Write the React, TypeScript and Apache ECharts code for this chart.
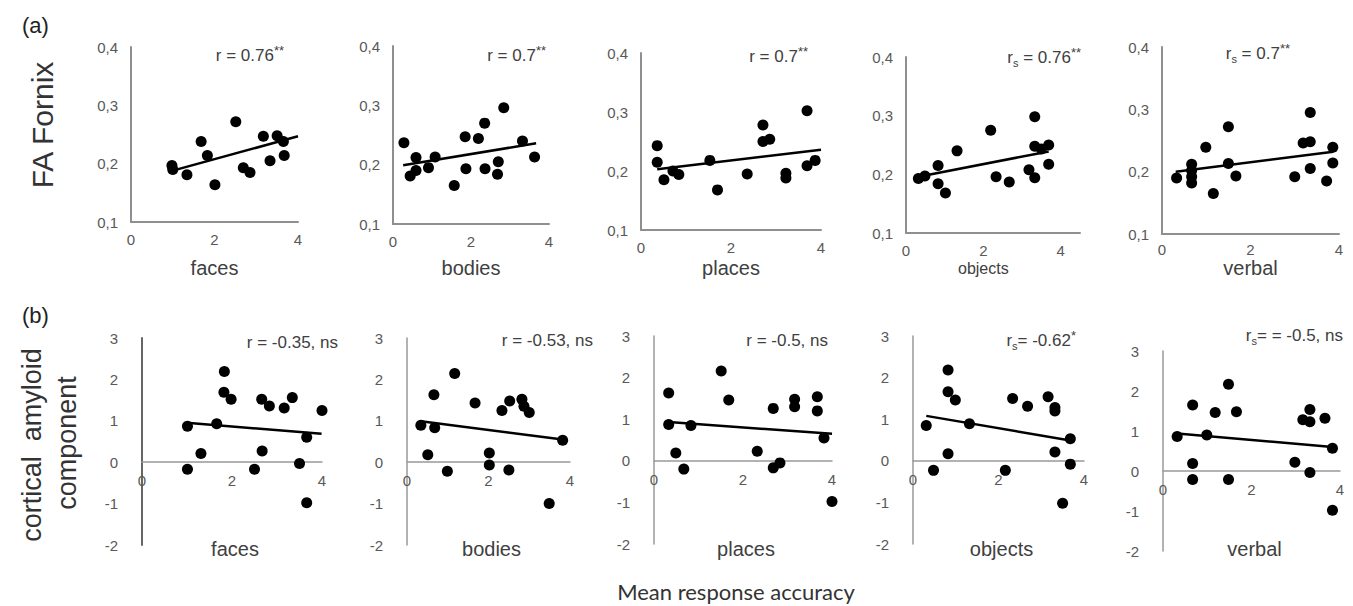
import React, { useEffect, useRef } from "react";
import * as echarts from "echarts";

// ---------- data ----------
const categories = ["faces", "bodies", "places", "objects", "verbal"];
const xTickLabels = ["0", "2", "4"];

// (a) FA Fornix vs mean response accuracy
const faFaces: number[][] = [[1.0, 0.19], [0.98, 0.197], [1.34, 0.181], [1.68, 0.238], [1.83, 0.214], [2.01, 0.164], [2.51, 0.272], [2.69, 0.193], [2.85, 0.185], [3.17, 0.247], [3.33, 0.205], [3.5, 0.248], [3.65, 0.238], [3.67, 0.214], [4.02, 0.297]];
const faBodies: number[][] = [[0.28, 0.237], [0.44, 0.181], [0.59, 0.19], [0.59, 0.212], [0.91, 0.195], [1.08, 0.213], [1.57, 0.165], [1.85, 0.247], [1.87, 0.193], [2.19, 0.244], [2.35, 0.27], [2.36, 0.193], [2.68, 0.184], [2.7, 0.205], [2.84, 0.296], [3.32, 0.24], [3.63, 0.213]];
const faPlaces: number[][] = [[0.36, 0.243], [0.36, 0.215], [0.51, 0.185], [0.71, 0.2], [0.84, 0.194], [1.53, 0.218], [1.7, 0.168], [2.36, 0.195], [2.71, 0.278], [2.71, 0.25], [2.86, 0.254], [3.22, 0.196], [3.22, 0.188], [3.69, 0.302], [3.69, 0.209], [3.87, 0.218], [4.02, 0.243]];
const faObjects: number[][] = [[0.32, 0.193], [0.49, 0.197], [0.83, 0.215], [0.83, 0.184], [1.02, 0.168], [1.32, 0.24], [2.19, 0.275], [2.33, 0.196], [2.67, 0.187], [3.18, 0.208], [3.33, 0.298], [3.33, 0.248], [3.33, 0.194], [3.5, 0.243], [3.69, 0.25], [3.69, 0.217]];
const faVerbal: number[][] = [[0.33, 0.19], [0.67, 0.212], [0.67, 0.202], [0.67, 0.192], [0.67, 0.182], [0.99, 0.239], [1.16, 0.165], [1.5, 0.272], [1.5, 0.213], [1.67, 0.193], [3.0, 0.192], [3.19, 0.246], [3.35, 0.295], [3.35, 0.248], [3.35, 0.205], [3.72, 0.185], [3.86, 0.239], [3.86, 0.214]];

const faFacesTrend: number[][] = [[1.0, 0.188], [4.0, 0.247]];
const faBodiesTrend: number[][] = [[0.26, 0.199], [3.67, 0.236]];
const faPlacesTrend: number[][] = [[0.36, 0.203], [4.0, 0.236]];
const faObjectsTrend: number[][] = [[0.32, 0.196], [3.69, 0.239]];
const faVerbalTrend: number[][] = [[0.31, 0.2], [3.87, 0.232]];

// (b) cortical amyloid component vs mean response accuracy
const amFaces: number[][] = [[1.01, 0.87], [1.01, -0.17], [1.31, 0.21], [1.66, 0.93], [1.83, 2.19], [1.82, 1.69], [1.98, 1.52], [2.5, -0.17], [2.66, 1.52], [2.67, 0.27], [2.83, 1.36], [3.16, 1.31], [3.34, 1.56], [3.5, -0.03], [3.66, 0.6], [3.66, -0.98], [4.0, 1.25]];
const amBodies: number[][] = [[0.34, 0.89], [0.51, 0.18], [0.66, 1.63], [0.68, 0.83], [0.99, -0.22], [1.17, 2.14], [1.67, 1.43], [2.02, 0.22], [2.02, -0.07], [2.33, 1.25], [2.5, -0.19], [2.52, 1.48], [2.82, 1.52], [2.87, 1.35], [3.0, 1.2], [3.49, -1.0], [3.82, 0.53]];
const amPlaces: number[][] = [[0.33, 1.63], [0.33, 0.87], [0.49, 0.19], [0.67, -0.2], [0.83, 0.85], [1.51, 2.16], [1.68, 1.46], [2.32, 0.23], [2.68, 1.26], [2.68, -0.17], [2.83, -0.05], [3.16, 1.48], [3.16, 1.3], [3.67, 1.54], [3.67, 1.2], [3.82, 0.55], [4.0, -0.98]];
const amObjects: number[][] = [[0.31, 0.85], [0.48, -0.23], [0.82, 2.18], [0.82, 1.66], [0.82, 0.17], [0.99, 1.46], [1.32, 0.89], [2.16, -0.23], [2.33, 1.5], [2.68, 1.31], [3.16, 1.54], [3.32, 1.28], [3.32, 1.2], [3.32, 0.21], [3.5, -1.02], [3.68, 0.53], [3.68, -0.08]];
const amVerbal: number[][] = [[0.32, 0.86], [0.67, 1.65], [0.67, 0.19], [0.67, -0.21], [0.99, 0.9], [1.18, 1.46], [1.48, 2.17], [1.48, -0.21], [1.66, 1.48], [2.98, 0.22], [3.16, 1.28], [3.32, 1.54], [3.32, 1.23], [3.32, -0.04], [3.66, 1.32], [3.83, 0.57], [3.83, -0.98]];

const amFacesTrend: number[][] = [[0.99, 0.95], [3.99, 0.69]];
const amBodiesTrend: number[][] = [[0.34, 0.99], [3.82, 0.55]];
const amPlacesTrend: number[][] = [[0.33, 0.93], [4.0, 0.65]];
const amObjectsTrend: number[][] = [[0.31, 1.08], [3.68, 0.49]];
const amVerbalTrend: number[][] = [[0.32, 0.94], [3.83, 0.6]];

// correlation annotations: [subscript, value text, stars]
const topStats = [
  ["", " = 0.76", "**"],
  ["", " = 0.7", "**"],
  ["", " = 0.7", "**"],
  ["s", " = 0.76", "**"],
  ["s", " = 0.7", "**"],
];
const bottomStats = [
  ["", " = -0.35, ns", ""],
  ["", " = -0.53, ns", ""],
  ["", " = -0.5, ns", ""],
  ["s", "= -0.62", "*"],
  ["s", "= = -0.5, ns", ""],
];

const topSeries = [faFaces, faBodies, faPlaces, faObjects, faVerbal];
const topTrends = [faFacesTrend, faBodiesTrend, faPlacesTrend, faObjectsTrend, faVerbalTrend];
const bottomSeries = [amFaces, amBodies, amPlaces, amObjects, amVerbal];
const bottomTrends = [amFacesTrend, amBodiesTrend, amPlacesTrend, amObjectsTrend, amVerbalTrend];

// ---------- layout ----------
const topGrids = [
  { left: 131, width: 167, top: 47, height: 175 },
  { left: 393, width: 156, top: 46, height: 178 },
  { left: 641, width: 180, top: 53, height: 177 },
  { left: 906, width: 174, top: 57, height: 176 },
  { left: 1162, width: 177, top: 47, height: 187 },
];
const topXMax = [4, 4, 4, 4.5, 4];
const bottomGrids = [
  { left: 142, width: 180, top: 338, height: 207 },
  { left: 407, width: 163, top: 338, height: 207 },
  { left: 654, width: 178, top: 336, height: 208 },
  { left: 913, width: 171, top: 336, height: 208 },
  { left: 1163, width: 177, top: 351, height: 200 },
];
// right edge x, middle y of each annotation
const topStatPos = [[284, 55], [546, 55], [808, 56], [1081, 57], [1290, 53]];
const bottomStatPos = [[338, 342], [593, 340], [828, 340], [1076, 340], [1343, 335]];

const FONT = "'Liberation Sans', Arial, sans-serif";

export default function App() {
  const ref = useRef<HTMLDivElement>(null);

  useEffect(() => {
    if (!ref.current) return;
    const chart = echarts.init(ref.current, undefined, { renderer: "svg" });

    const grids: any[] = [];
    const xAxes: any[] = [];
    const yAxes: any[] = [];
    const series: any[] = [];
    const graphics: any[] = [];

    const xLabelFmt = (v: number) => {
      const s = String(Math.round(v * 1000) / 1000);
      return xTickLabels.indexOf(s) >= 0 ? s : "";
    };

    topGrids.forEach((g, i) => {
      grids.push({ ...g });
      xAxes.push({
        type: "value", gridIndex: i, min: 0, max: topXMax[i], interval: 2,
        axisLine: { show: true, onZero: false, lineStyle: { color: "#8f8f8f", width: 2 } },
        axisTick: { show: false }, splitLine: { show: false },
        axisLabel: { formatter: xLabelFmt, color: "#595959", fontSize: 15, margin: i === 4 ? 8 : 10, fontFamily: FONT },
      });
      yAxes.push({
        type: "value", gridIndex: i, min: 0.1, max: 0.4, interval: 0.1,
        axisLine: { show: true, onZero: false, lineStyle: { color: "#8f8f8f", width: 2 } },
        axisTick: { show: false }, splitLine: { show: false },
        axisLabel: { formatter: (v: number) => v.toFixed(1).replace(".", ","), color: "#595959", fontSize: 15, margin: 13, fontFamily: FONT },
      });
    });
    bottomGrids.forEach((g, j) => {
      const i = j + 5;
      grids.push({ ...g });
      // x axis drawn at y = 0 (2 of the 5 units above the bottom of -2..3)
      xAxes.push({
        type: "value", gridIndex: i, min: 0, max: 4, interval: 2, position: "bottom",
        offset: -(g.height * 2) / 5,
        axisLine: { show: true, onZero: false, lineStyle: { color: "#999999", width: 1.5 } },
        axisTick: { show: false }, splitLine: { show: false },
        axisLabel: { formatter: xLabelFmt, color: "#595959", fontSize: 15, margin: 11, fontFamily: FONT },
      });
      yAxes.push({
        type: "value", gridIndex: i, min: -2, max: 3, interval: 1,
        axisLine: { show: true, onZero: false, lineStyle: { color: j === 0 ? "#666666" : "#999999", width: j === 0 ? 2 : 1.5 } },
        axisTick: { show: false }, splitLine: { show: false },
        axisLabel: { color: "#595959", fontSize: 15, margin: 24, fontFamily: FONT },
      });
    });

    const allPoints = [...topSeries, ...bottomSeries];
    const allTrends = [...topTrends, ...bottomTrends];
    allPoints.forEach((pts, i) => {
      series.push({
        type: "scatter", xAxisIndex: i, yAxisIndex: i, data: pts,
        symbolSize: 11, itemStyle: { color: "#000000", opacity: 1 }, z: 3,
      });
      series.push({
        type: "line", xAxisIndex: i, yAxisIndex: i, data: allTrends[i],
        symbol: "none", lineStyle: { color: "#000000", width: 2.5 }, z: 4,
      });
    });

    const statText = (sub: string, val: string, stars: string) => {
      let t = "{n|r}";
      if (sub) t += "{sub|" + sub + "}";
      t += "{n|" + val + "}";
      if (stars) t += "{sup|" + stars + "}";
      return t;
    };
    const rich = {
      n: { fontSize: 17, fontFamily: FONT, fill: "#404040", lineHeight: 22, verticalAlign: "middle" },
      sub: { fontSize: 11, fontFamily: FONT, fill: "#404040", lineHeight: 12, verticalAlign: "bottom" },
      sup: { fontSize: 13, fontFamily: FONT, fill: "#404040", lineHeight: 14, verticalAlign: "top" },
    };
    topStats.forEach((s, i) => {
      graphics.push({
        type: "text", x: topStatPos[i][0], y: topStatPos[i][1],
        style: { text: statText(s[0], s[1], s[2]), rich, verticalAlign: "middle", align: "right" },
      });
    });
    bottomStats.forEach((s, i) => {
      graphics.push({
        type: "text", x: bottomStatPos[i][0], y: bottomStatPos[i][1],
        style: { text: statText(s[0], s[1], s[2]), rich, verticalAlign: "middle", align: "right" },
      });
    });

    categories.forEach((c, i) => {
      const g = topGrids[i];
      const cx = g.left + (g.width * 4) / topXMax[i] / 2;
      graphics.push({
        type: "text", x: cx, y: 268,
        style: { text: c, fontSize: c === "objects" ? 16 : 20, lineHeight: 20, fontFamily: FONT, fill: "#404040", align: "center", verticalAlign: "middle" },
      });
      const b = bottomGrids[i];
      graphics.push({
        type: "text", x: b.left + b.width / 2 + 3, y: 549,
        style: { text: c, fontSize: 20, lineHeight: 20, fontFamily: FONT, fill: "#404040", align: "center", verticalAlign: "middle" },
      });
    });

    graphics.push(
      { type: "text", x: 22, y: 25, style: { text: "(a)", fontSize: 22, fontFamily: FONT, fill: "#222", align: "left", verticalAlign: "middle" } },
      { type: "text", x: 22, y: 315, style: { text: "(b)", fontSize: 22, fontFamily: FONT, fill: "#222", align: "left", verticalAlign: "middle" } },
      { type: "text", x: 42, y: 125, rotation: Math.PI / 2, style: { text: "FA Fornix", fontSize: 30, fontFamily: FONT, fill: "#333", align: "center", verticalAlign: "middle" } },
      { type: "text", x: 32, y: 445, rotation: Math.PI / 2, style: { text: "cortical  amyloid", fontSize: 27, fontFamily: FONT, fill: "#333", align: "center", verticalAlign: "middle" } },
      { type: "text", x: 67, y: 443, rotation: Math.PI / 2, style: { text: "component", fontSize: 27, fontFamily: FONT, fill: "#333", align: "center", verticalAlign: "middle" } },
      { type: "text", x: 736, y: 591, style: { text: "Mean response accuracy", fontSize: 22, lineHeight: 24, fontFamily: "Lato, 'Open Sans', sans-serif", fill: "#333", align: "center", verticalAlign: "middle" } },
    );

    chart.setOption({
      animation: false,
      backgroundColor: "#ffffff",
      grid: grids,
      xAxis: xAxes,
      yAxis: yAxes,
      series,
      graphic: graphics,
    });

    return () => chart.dispose();
  }, []);

  return (
    <div
      ref={ref}
      style={{ position: "absolute", left: 0, top: 0, width: 1353, height: 606, background: "#fff" }}
    />
  );
}
